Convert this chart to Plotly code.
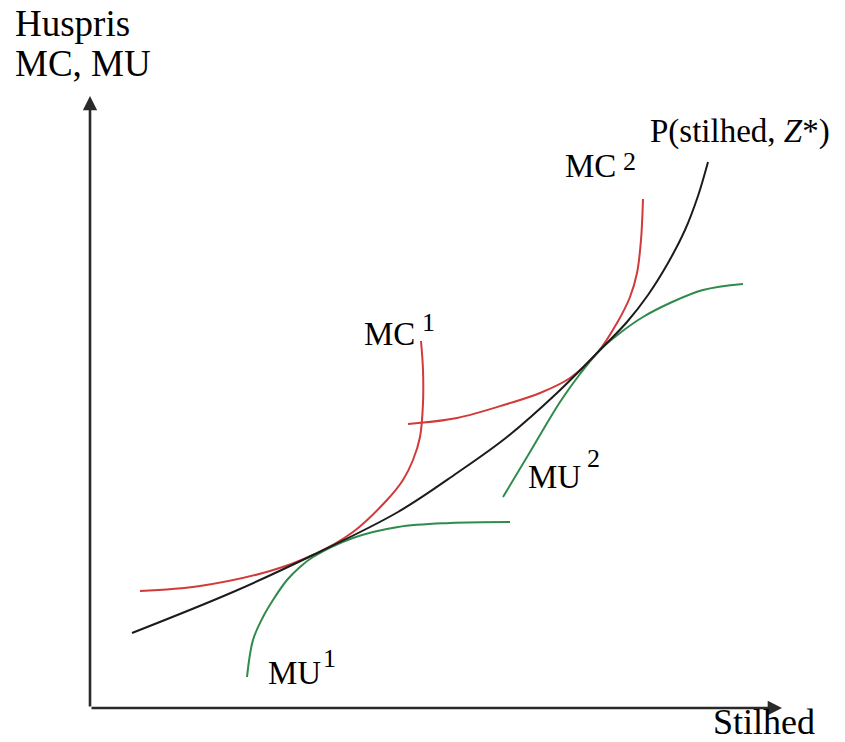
import plotly.graph_objects as go

# Stilhed (x) and price (y) in chart units; origin is where the two axes meet
p_x = [42, 143, 223, 308, 367, 417, 467, 510, 537, 558, 578, 595, 608, 618]
p_y = [75, 116, 153, 196, 235, 271, 315, 358, 386, 413, 445, 478, 512, 546]

mc1_x = [50, 110, 180, 223, 263, 297, 313, 323, 330, 333, 333, 331]
mc1_y = [117, 122, 137, 153, 176, 208, 228, 248, 271, 305, 338, 367]

mu1_x = [157, 163, 173, 183, 197, 210, 223, 263, 308, 360, 420]
mu1_y = [31, 68, 91, 108, 128, 141, 151, 170, 181, 185, 186]

mc2_x = [318, 367, 417, 450, 480, 508, 527, 540, 547, 551, 553]
mc2_y = [284, 290, 304, 315, 330, 356, 385, 411, 435, 468, 509]

mu2_x = [413, 440, 470, 490, 510, 530, 553, 580, 613, 653]
mu2_y = [211, 256, 306, 334, 358, 375, 391, 405, 418, 424]

x_axis_end = 692
y_axis_end = 612

RED = "#d23a3a"
GREEN = "#2f8a4c"
BLACK = "#1c1c1c"
FONT = "Liberation Serif"

fig = go.Figure()


def curve(xs, ys, color):
    fig.add_trace(go.Scatter(x=xs, y=ys, mode="lines",
                             line=dict(color=color, width=2, shape="spline", smoothing=1.0),
                             hoverinfo="skip", showlegend=False))


curve(mc1_x, mc1_y, RED)
curve(mc2_x, mc2_y, RED)
curve(mu1_x, mu1_y, GREEN)
curve(mu2_x, mu2_y, GREEN)
curve(p_x, p_y, BLACK)

annotations = []

# axes with arrowheads
for (x0, y0, x1, y1) in [(0, 0, 0, y_axis_end), (0, 0, x_axis_end, 0)]:
    annotations.append(dict(x=x1, y=y1, ax=x0, ay=y0, xref="x", yref="y",
                            axref="x", ayref="y", showarrow=True, arrowhead=2,
                            arrowsize=1.1, arrowwidth=2.6, arrowcolor="#2a2a2a",
                            standoff=0, text=""))


def label(x, y, text, size=33, anchor="bottom"):
    annotations.append(dict(x=x, y=y, xref="x", yref="y", text=text, showarrow=False,
                            xanchor="left", yanchor=anchor,
                            font=dict(family=FONT, size=size, color="black")))


# axis titles
label(-77, 662, "Huspris", size=37)
label(-77, 622, "MC, MU", size=37)
label(621, 8, "Stilhed", size=36, anchor="top")

# curve labels (main text + raised index)
label(558, 556, "P(stilhed, <i>Z</i>*)")
label(272, 354, "MC")
label(330, 369, "1", size=26)
label(473, 522, "MC")
label(531, 530, "2", size=26)
label(176, 15, "MU")
label(231, 33, "1", size=26)
label(436, 211, "MU")
label(495, 233, "2", size=26)

fig.update_layout(
    width=845, height=742,
    margin=dict(l=0, r=0, t=0, b=0),
    paper_bgcolor="white", plot_bgcolor="white",
    xaxis=dict(range=[-90, 755], visible=False, fixedrange=True),
    yaxis=dict(range=[-34, 708], visible=False, fixedrange=True),
    annotations=annotations,
    showlegend=False,
)

fig.write_html("out.html")
